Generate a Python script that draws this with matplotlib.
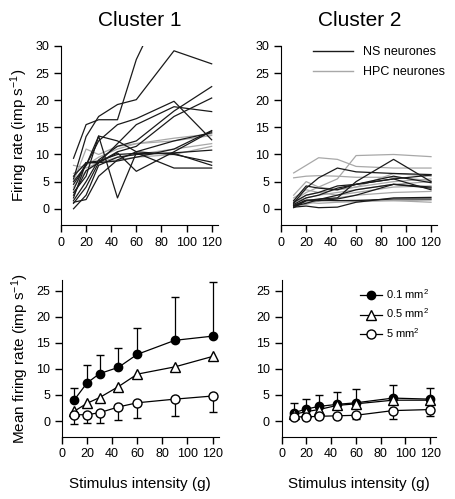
import matplotlib
matplotlib.use('Agg')
import matplotlib.pyplot as plt
from matplotlib.lines import Line2D
import numpy as np

plt.rcParams['font.family'] = ['Liberation Sans', 'DejaVu Sans']
plt.rcParams['mathtext.default'] = 'regular'

stim = [10, 20, 30, 45, 60, 90, 120]

# cluster 1, individual neurones
c1_ns = [
    [9.3, 15.5, 16.4, 16.4, 27.5, 42.0, 42.0],
    [5.5, 13.3, 17.0, 19.2, 20.1, 29.1, 26.7],
    [3.0, 6.0, 13.4, 2.0, 10.3, 7.5, 7.5],
    [2.5, 7.0, 8.5, 10.3, 6.9, 10.5, 14.3],
    [4.5, 8.0, 12.5, 15.5, 16.6, 19.8, 12.7],
    [1.5, 5.0, 9.0, 11.5, 12.5, 18.0, 22.5],
    [1.0, 4.0, 8.5, 10.5, 11.5, 17.0, 20.4],
    [3.5, 8.5, 8.5, 12.0, 15.5, 18.8, 17.9],
    [0.0, 2.5, 8.0, 9.5, 10.0, 10.3, 10.8],
    [2.0, 8.5, 8.5, 8.8, 9.5, 11.0, 14.4],
    [5.0, 8.0, 13.4, 12.5, 10.5, 10.0, 8.6],
    [6.0, 8.5, 8.8, 10.0, 10.2, 10.2, 8.0],
    [1.2, 1.7, 6.0, 9.0, 10.5, 12.5, 14.0],
]
c1_hpc = [
    [8.0, 7.5, 8.5, 9.5, 10.0, 11.0, 12.0],
    [5.0, 11.0, 10.0, 11.5, 12.0, 13.0, 13.8],
    [4.0, 7.0, 8.5, 9.0, 9.5, 10.0, 11.5],
    [6.5, 8.0, 9.5, 11.0, 12.0, 12.5, 13.5],
]

# cluster 2, individual neurones
c2_ns = [
    [0.5, 1.5, 1.8, 2.0, 5.0, 9.1, 5.0],
    [1.0, 3.8, 5.7, 7.5, 6.8, 6.5, 6.3],
    [0.3, 0.5, 0.2, 0.3, 1.2, 2.0, 2.1],
    [1.5, 4.2, 3.8, 3.5, 4.5, 5.5, 3.5],
    [0.8, 2.0, 2.5, 3.8, 4.5, 6.0, 4.8],
    [0.5, 1.0, 1.7, 2.5, 3.5, 4.5, 4.0],
    [1.2, 2.5, 3.0, 4.2, 4.5, 5.5, 6.2],
    [0.2, 1.5, 1.5, 1.8, 2.5, 4.5, 3.8],
    [0.6, 1.6, 1.6, 1.5, 1.5, 1.8, 1.8],
]
c2_hpc = [
    [6.6, 8.0, 9.4, 9.1, 7.8, 7.5, 7.5],
    [1.5, 3.0, 4.0, 5.5, 9.8, 10.0, 9.6],
    [5.7, 6.0, 6.1, 6.0, 5.8, 5.8, 5.2],
    [2.5, 5.0, 4.0, 3.5, 4.0, 6.5, 6.0],
    [1.0, 2.5, 3.0, 3.5, 4.0, 5.0, 5.5],
    [0.8, 1.2, 1.0, 1.2, 1.3, 1.5, 1.2],
    [1.5, 1.5, 1.4, 1.5, 1.6, 1.5, 1.6],
    [2.0, 3.5, 3.0, 2.5, 3.0, 4.0, 4.2],
    [0.5, 0.8, 1.5, 2.0, 2.5, 3.0, 3.2],
    [1.2, 2.0, 2.5, 3.0, 3.5, 4.5, 5.0],
]

# means per receptive field size
c1_01 = [4.1, 7.3, 9.1, 10.3, 12.8, 15.5, 16.3]
c1_01_err = [2.3, 3.4, 3.6, 3.7, 5.0, 8.3, 10.4]
c1_05 = [1.9, 3.4, 4.5, 6.6, 9.0, 10.4, 12.4]
c1_5 = [1.2, 1.2, 1.6, 2.7, 3.5, 4.2, 4.8]
c1_5_err = [1.7, 1.6, 1.9, 2.5, 2.9, 3.3, 3.0]

c2_01 = [1.6, 2.3, 2.8, 3.2, 3.5, 4.4, 4.2]
c2_01_err = [1.8, 1.9, 2.2, 2.3, 2.6, 2.6, 2.2]
c2_05 = [1.3, 1.8, 2.2, 3.0, 3.3, 4.0, 4.0]
c2_5 = [0.8, 0.8, 0.9, 1.0, 1.1, 2.0, 2.2]
c2_5_err = [0.4, 0.4, 0.4, 0.3, 0.8, 1.7, 1.2]

sizes = ['0.1 mm$^2$', '0.5 mm$^2$', '5 mm$^2$']
xticks = [0, 20, 40, 60, 80, 100, 120]

fig = plt.figure(figsize=(4.55, 4.99), dpi=100)
ax1 = fig.add_axes([0.134, 0.549, 0.345, 0.359])
ax2 = fig.add_axes([0.618, 0.549, 0.343, 0.359])
ax3 = fig.add_axes([0.136, 0.125, 0.345, 0.313])
ax4 = fig.add_axes([0.619, 0.125, 0.340, 0.313])

for ax in (ax1, ax2, ax3, ax4):
    ax.spines['top'].set_visible(False)
    ax.spines['right'].set_visible(False)
    ax.set_xlim(0, 125)
    ax.set_xticks(xticks)
    ax.tick_params(direction='out', length=5, labelsize=9, width=1)

for ax in (ax1, ax2):
    ax.set_ylim(-3, 30)
    ax.set_yticks([0, 5, 10, 15, 20, 25, 30])
for ax in (ax3, ax4):
    ax.set_ylim(-3, 27)
    ax.set_yticks([0, 5, 10, 15, 20, 25])

for ax, ns, hpc in ((ax1, c1_ns, c1_hpc), (ax2, c2_ns, c2_hpc)):
    for row in hpc:
        ax.plot(stim, row, color='#a8a8a8', lw=0.9)
    for row in ns:
        ax.plot(stim, row, color='#1a1a1a', lw=0.9)

ax2.plot([], [], color='#1a1a1a', lw=1, label='NS neurones')
ax2.plot([], [], color='#a8a8a8', lw=1, label='HPC neurones')
ax2.legend(loc='upper right', frameon=False, fontsize=9, handlelength=3.2,
           bbox_to_anchor=(1.12, 1.06), labelspacing=0.6)

def means(ax, m01, e01, m05, m5, e5):
    ax.errorbar(stim, m01, yerr=[np.zeros(len(e01)), e01], color='black', lw=0.9,
                elinewidth=0.9, capsize=3, marker='o', ms=6, mfc='black',
                mec='black', zorder=3)
    ax.plot(stim, m05, color='black', lw=0.9, marker='^', ms=6.5, mfc='white',
            mec='black', zorder=4)
    ax.errorbar(stim, m5, yerr=[e5, np.zeros(len(e5))], color='black', lw=0.9,
                elinewidth=0.9, capsize=3, marker='o', ms=6.5, mfc='white',
                mec='black', zorder=5)

means(ax3, c1_01, c1_01_err, c1_05, c1_5, c1_5_err)
means(ax4, c2_01, c2_01_err, c2_05, c2_5, c2_5_err)

handles = [
    Line2D([], [], color='black', lw=0.9, marker='o', ms=6, mfc='black'),
    Line2D([], [], color='black', lw=0.9, marker='^', ms=6.5, mfc='white'),
    Line2D([], [], color='black', lw=0.9, marker='o', ms=6.5, mfc='white'),
]
ax4.legend(handles, sizes, loc='upper right', frameon=False, fontsize=8,
           handlelength=2, bbox_to_anchor=(1.02, 1.02), labelspacing=0.5,
           handletextpad=0.4)

ax1.set_ylabel('Firing rate (imp s$^{-1}$)', fontsize=11)
ax3.set_ylabel('Mean firing rate (imp s$^{-1}$)', fontsize=11)
ax3.set_xlabel('Stimulus intensity (g)', fontsize=11, labelpad=12)
ax4.set_xlabel('Stimulus intensity (g)', fontsize=11, labelpad=12)
ax1.set_title('Cluster 1', fontsize=15, pad=14)
ax2.set_title('Cluster 2', fontsize=15, pad=14)

fig.savefig('out.png', dpi=100)
